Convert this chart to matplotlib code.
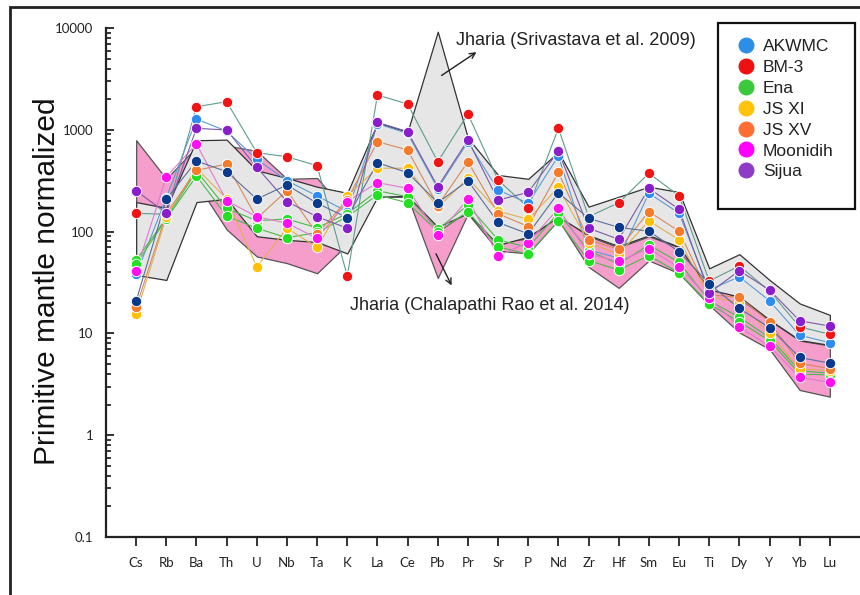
import matplotlib
matplotlib.use("Agg")
import matplotlib.pyplot as plt
from matplotlib.patches import Rectangle
from matplotlib.lines import Line2D
from matplotlib.ticker import LogLocator, FixedLocator, FixedFormatter, NullFormatter

px = 1. / 100

elements = ["Cs", "Rb", "Ba", "Th", "U", "Nb", "Ta", "K", "La", "Ce", "Pb", "Pr",
            "Sr", "P", "Nd", "Zr", "Hf", "Sm", "Eu", "Ti", "Dy", "Y", "Yb", "Lu"]

# sample series (primitive mantle normalized)
akwmc = [38, 215, 1276, 970, 513, 316, 224, 157, 1150, 920, 265, 760,
         256, 190, 553, 66, 55, 238, 152, 26.7, 36, 20.9, 9.6, 8.1]
bm3 = [151, 148, 1686, 1888, 596, 544, 444, 36.6, 2198, 1792, 486, 1429,
       321, 172, 1035, 140, 192, 374, 225, 32.7, 46, 26, 11.6, 9.8]
ena = [52.6, 136, 393, 169, 128, 133, 109, 150, 252, 220, 105, 182,
       83, 70, 153, 65, 48, 74, 50, 21, 14.4, 9.1, 4.3, 4.06]
ena_b = [48, 133, 352, 142, 108, 87, 98, 140, 229, 192, 100, 157,
         71, 60, 128, 52, 42, 58, 39.5, 19.5, 13, 8.5, 4.0, 3.9]
js_xi = [15.5, 140, 419, 210, 45, 108, 70, 224, 420, 419, 173, 334,
         159, 132, 272, 78, 60, 128, 83, 23, 20, 10, 4.5, 4.3]
js_xv = [18, 150, 400, 461, 135, 252, 95, 205, 764, 634, 180, 486,
         150, 112, 382, 83, 67, 157, 101, 24, 22.6, 13.0, 5.1, 4.5]
moonidih = [41, 346, 726, 201, 140, 121, 86, 197, 303, 266, 93, 209,
            58, 78, 169, 60, 51, 68, 44.6, 22.4, 11.6, 7.5, 3.7, 3.3]
sijua = [252, 152, 1035, 995, 428, 197, 140, 108, 1185, 959, 276, 794,
         204, 243, 619, 108, 84, 266, 166, 25, 41.3, 26.7, 13.3, 11.8]
unlabelled = [20.8, 209, 494, 388, 209, 287, 190, 137, 475, 379, 192, 316,
              123, 95, 241, 135, 110, 101, 63.5, 30.6, 17.6, 11.4, 5.8, 5.1]

# reference fields
sriv_upper = [195, 171, 790, 800, 400, 336, 276, 240, 1167, 960, 9200, 830,
              360, 330, 606, 176, 220, 276, 245, 43.6, 60, 33.5, 19.7, 15.2]
sriv_lower = [37.5, 33.5, 195, 210, 90, 83, 79, 61, 220, 224, 111, 152,
              74, 89, 140, 92, 72, 92, 71, 27, 23, 13.6, 8.6, 7.7]
rao_upper = [790, 330, 680, 700, 620, 330, 336, 150, 900, 700, 100, 160,
             80, 85, 145, 90, 70, 90, 70, 30, 22, 13.5, 8.5, 7.6]
rao_lower = [150, 140, 300, 105, 57, 49, 39, 75, 220, 220, 35, 150,
             65, 61, 130, 45, 28, 52, 39, 19, 10.2, 7.0, 2.78, 2.39]

series = [
    ("AKWMC", akwmc, "#2E8BF0", "#5B9BD5"),
    ("BM-3", bm3, "#F01414", "#5E9C8F"),
    ("Ena", ena, "#22E022", "#4CB84C"),
    ("_Ena", ena_b, "#22E022", "#4CB84C"),
    ("JS XI", js_xi, "#FFC107", "#E0B050"),
    ("JS XV", js_xv, "#F57A2A", "#D9895A"),
    ("Moonidih", moonidih, "#FF10F0", "#E07ACF"),
    ("Sijua", sijua, "#8A1ECC", "#7A5AA6"),
    ("_unlabelled", unlabelled, "#0A3A8C", "#5A6E9A"),
]

legend_items = [("AKWMC", "#2B8FE8"), ("BM-3", "#EE1111"), ("Ena", "#3CC83C"),
                ("JS XI", "#FFC30B"), ("JS XV", "#FF6E33"),
                ("Moonidih", "#FF00FF"), ("Sijua", "#8E3CC6")]

fig = plt.figure(figsize=(860 * px, 595 * px), dpi=100)
ax = fig.add_axes([106 / 860, 58 / 595, 754 / 860, 509 / 595])

x = list(range(len(elements)))

ax.fill_between(x, rao_lower, rao_upper, facecolor="#F59DCB", edgecolor="#555555",
                linewidth=0.9, zorder=1)
ax.fill_between(x, sriv_lower, sriv_upper, facecolor="#E6E6E6", edgecolor="#333333",
                linewidth=0.9, zorder=2)

for name, vals, mcol, lcol in series:
    ax.plot(x, vals, color=lcol, linewidth=0.8, zorder=3)
for name, vals, mcol, lcol in series:
    ax.plot(x, vals, linestyle="none", marker="o", markersize=7.5,
            markerfacecolor=mcol, markeredgecolor="white", markeredgewidth=0.7,
            zorder=4)

ax.set_yscale("log")
ax.set_ylim(0.1, 10000)
ax.set_xlim(-1, 24)

ax.yaxis.set_major_locator(FixedLocator([0.1, 1, 10, 100, 1000, 10000]))
ax.yaxis.set_major_formatter(FixedFormatter(["0.1", "1", "10", "100", "1000", "10000"]))
ax.yaxis.set_minor_locator(LogLocator(base=10, subs=range(2, 10)))
ax.yaxis.set_minor_formatter(NullFormatter())
ax.set_xticks(x)
ax.set_xticklabels(elements)

for s in ["top", "right"]:
    ax.spines[s].set_visible(False)
for s in ["left", "bottom"]:
    ax.spines[s].set_linewidth(1.6)
    ax.spines[s].set_color("#222222")

ax.tick_params(axis="y", which="major", direction="in", length=6, width=1.3,
               pad=9, labelsize=9.5, colors="#222222")
ax.tick_params(axis="y", which="minor", direction="in", length=3.5, width=1.1)
ax.tick_params(axis="x", which="major", direction="out", length=6.5, width=1.3,
               pad=8, labelsize=9.5, colors="#222222")
for lab in ax.get_xticklabels() + ax.get_yticklabels():
    lab.set_fontfamily("Lato")

# annotations
ax.text(10.6, 7600, "Jharia (Srivastava et al. 2009)", fontsize=13,
        family="Liberation Sans", va="center", ha="left", color="#222222")
ax.annotate("", xy=(11.36, 6000), xytext=(10.05, 3300),
            arrowprops=dict(arrowstyle="->", color="#222222", lw=1.0))
ax.text(7.1, 18.6, "Jharia (Chalapathi Rao et al. 2014)", fontsize=13,
        family="Liberation Sans", va="center", ha="left", color="#222222")
ax.annotate("", xy=(10.5, 28), xytext=(9.9, 64),
            arrowprops=dict(arrowstyle="->", color="#222222", lw=1.0))

# y label
fig.text(47 / 860, 1 - 281 / 595, "Primitive mantle normalized", rotation=90,
         ha="center", va="center", fontsize=21.5, family="Liberation Sans",
         color="#111111")

# legend with square frame
fig.add_artist(Rectangle((718 / 860, 1 - 209 / 595), 137 / 860, 186 / 595,
                         transform=fig.transFigure, facecolor="white",
                         edgecolor="#111111", linewidth=1.6, zorder=3))
handles = [Line2D([], [], linestyle="none", marker="o", markersize=10.5,
                  markerfacecolor=c, markeredgecolor=c) for _, c in legend_items]
leg = fig.legend(handles, [n for n, _ in legend_items], loc="upper left",
                 bbox_to_anchor=(736 / 860, 1 - 39 / 595), frameon=False,
                 prop={"family": "Liberation Sans", "size": 12.5},
                 labelspacing=0.33, handletextpad=0.35, handlelength=1.2,
                 borderaxespad=0, borderpad=0)
leg.set_zorder(5)
for t in leg.get_texts():
    t.set_color("#222222")

# outer frame of the picture
fig.add_artist(Rectangle((10 / 860, -0.05), 1.0, 1 - 7 / 595 + 0.05,
                         transform=fig.transFigure, fill=False,
                         edgecolor="#222222", linewidth=2.0, zorder=2))

fig.savefig("out.png", dpi=100)
